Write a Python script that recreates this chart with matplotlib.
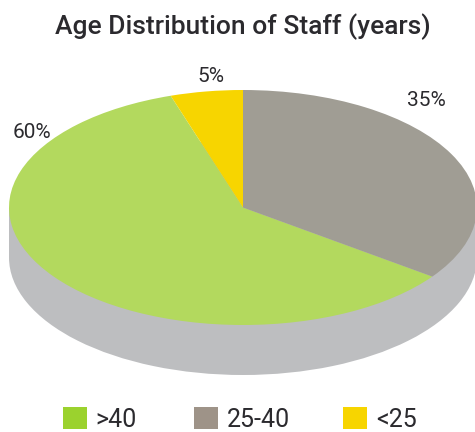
import matplotlib
matplotlib.use('Agg')
import matplotlib.pyplot as plt
from matplotlib.patches import Patch, Rectangle

# data
categories = ['>40', '25-40', '<25']
shares = [60, 35, 5]
pie_colors = ['#B3D95E', '#A09D94', '#F7D500']
legend_colors = ['#9BD22E', '#9E9388', '#F7D500']
side_color = '#BDBEC0'
text_color = '#2B2A2E'
title = 'Age Distribution of Staff (years)'

W, H = 475, 432
cx, cy = 243, 207.5   # ellipse centre in pixels
rx, ry = 234, 117.5
depth = 50 / ry       # thickness of the side, in y units of the pie

plt.rcParams['font.family'] = ['Roboto', 'DejaVu Sans']

fig = plt.figure(figsize=(W / 100, H / 100), dpi=100)
ax = fig.add_axes([0, 0, 1, 1])

# side of the disc: lower ellipse plus the band up to the top one
ax.pie([1], radius=1, center=(0, -depth), colors=[side_color])
ax.add_patch(Rectangle((-1, -depth), 2, depth, color=side_color, lw=0))

# top of the disc
ax.pie(shares, radius=1, center=(0, 0), colors=pie_colors, startangle=108,
       counterclock=True, wedgeprops={'linewidth': 0})

# squash the pie to an ellipse
ax.set_aspect('auto')
ax.set_xlim(-cx / rx, (W - cx) / rx)
ax.set_ylim((cy - H) / ry, cy / ry)
ax.axis('off')

fig.text(243 / W, 1 - 27 / H, title, ha='center', va='center', fontsize=19,
         fontweight='medium', color=text_color)

# percent labels, placed by hand as in the original
label_pos = [(32, 133), (426, 101), (211, 77)]
for (px, py), share in zip(label_pos, shares):
    fig.text(px / W, 1 - py / H, f'{share}%', ha='center', va='center',
             fontsize=15, color=text_color)

# one legend per entry so each can sit where it does in the original
legend_x = [63, 194, 343]
for name, colour, px in zip(categories, legend_colors, legend_x):
    leg = fig.legend([Patch(color=colour, lw=0)], [name], loc='center left',
                     frameon=False, bbox_to_anchor=(px / W, 1 - 419.5 / H),
                     fontsize=18, labelcolor=text_color, borderpad=0,
                     borderaxespad=0, handlelength=0.95, handleheight=0.95,
                     handletextpad=0.36)

fig.savefig('out.png', dpi=100)
